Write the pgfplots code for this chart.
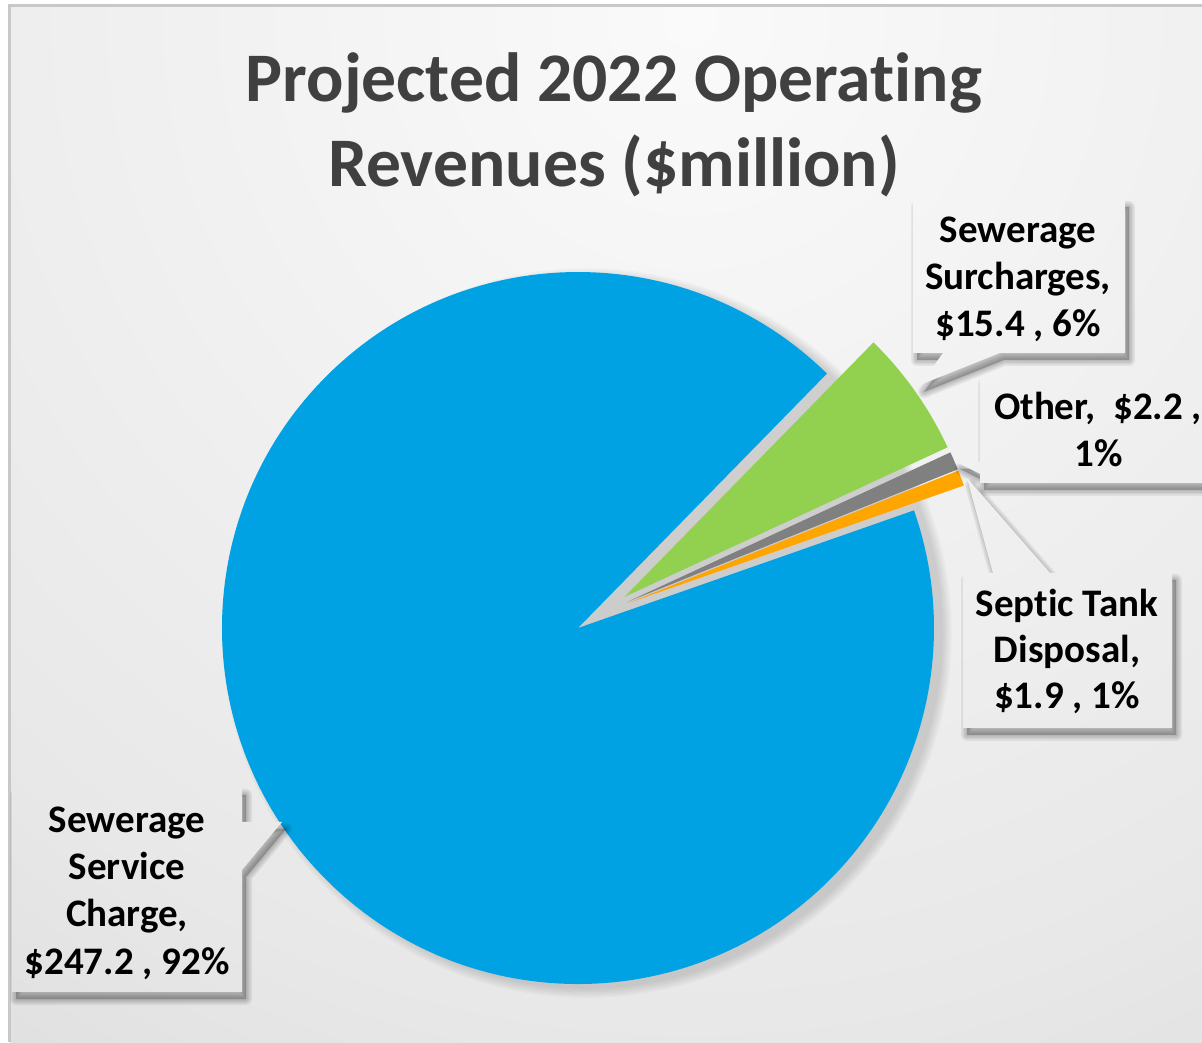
\documentclass[border=0pt]{standalone}
\usepackage{fontspec}
\setmainfont{Carlito}[Ligatures={NoCommon,NoContextual}, RawFeature={-liga;-dlig;-clig}]
\usepackage{pgfplots}
\pgfplotsset{compat=1.18}
\usepackage{pgfplotstable}

\definecolor{pieblue}{HTML}{00A2E3}
\definecolor{piegreen}{HTML}{92D050}
\definecolor{piegray}{HTML}{808080}
\definecolor{pieorange}{HTML}{FFA500}
\definecolor{titlegray}{HTML}{404040}
\definecolor{framegray}{HTML}{C8C8C8}
\definecolor{bgA}{HTML}{FAFAFA}
\definecolor{bgB}{HTML}{E8E8E8}
\definecolor{bgC}{HTML}{D3D3D3}
\definecolor{bgD}{HTML}{C4C4C4}

\pgfdeclareradialshading{bgshade}{\pgfpoint{0bp}{0bp}}{color(0bp)=(bgA); color(20bp)=(bgB); color(33bp)=(bgC); color(43bp)=(bgD); color(50bp)=(bgD)}

\newcommand\bgfill{\shade[shading=bgshade] (690,20) circle[radius=625pt];}
\newcommand\callout[1]{%
  \foreach \k in {1,...,4}{%
    \path[fill=black, draw=black, fill opacity=0.06, draw opacity=0.06,
          line width=\k*1.5pt, line join=round, shift={(4,7)}] #1;}
  \begin{scope}\clip #1; \bgfill\end{scope}}
\newcommand\lbl[3]{\node[anchor=base, inner sep=0pt, font=\fontsize{19.5}{23.75}\selectfont\bfseries] at (#1,#2) {#3};}

\pgfplotstableread{
name value
SSC 247.2
SS 15.4
OT 2.2
ST 1.9
}\pietable

\begin{document}
\begin{tikzpicture}
\pgfplotstablegetelem{0}{value}\of\pietable \let\va\pgfplotsretval
\pgfplotstablegetelem{1}{value}\of\pietable \let\vb\pgfplotsretval
\pgfplotstablegetelem{2}{value}\of\pietable \let\vc\pgfplotsretval
\pgfplotstablegetelem{3}{value}\of\pietable \let\vd\pgfplotsretval
\pgfmathsetmacro\tot{\va+\vb+\vc+\vd}
\pgfmathsetmacro\aA{19.3}
\pgfmathsetmacro\aB{\aA-360*(\va/\tot)}
\pgfmathsetmacro\aC{\aB-360*(\vb/\tot)}
\pgfmathsetmacro\aD{\aC-360*(\vc/\tot)}
\pgfmathsetmacro\aE{\aD-360*(\vd/\tot)}

% background (pixel coordinates, y down)
\begin{scope}[x=0.5pt,y=-0.5pt,yshift=521pt]
  \fill[white] (0,0) rectangle (1202,1042);
  \begin{scope}\clip (10,6) rectangle (1202,1042); \bgfill\end{scope}
  \draw[framegray, line width=1.2pt] (9.5,1042) -- (9.5,5.5) -- (1202,5.5);
  % pie shadow
  \foreach \k in {1,...,6}{\fill[black, opacity=0.025] (587,633) circle[radius={(354+1.8*\k)*0.5pt}];}
\end{scope}

\begin{axis}[at={(0,0)}, anchor=south west, scale only axis,
  width=601pt, height=521pt, xmin=0, xmax=1202, ymin=0, ymax=1042,
  y dir=reverse, hide axis, clip=false]
  \addplot[draw=none] coordinates {(0,0)};
  \fill[pieblue, shift={({(\aA+\aB)/2}:14pt)}] (axis cs:601.6,613) -- ++(\aB:178pt) arc[start angle=\aB, end angle=\aA, radius=178pt] -- cycle;
  \fill[piegreen, shift={({(\aB+\aC)/2}:14pt)}] (axis cs:601.6,613) -- ++(\aC:178pt) arc[start angle=\aC, end angle=\aB, radius=178pt] -- cycle;
  \fill[piegray, shift={({(\aC+\aD)/2}:14pt)}] (axis cs:601.6,613) -- ++(\aD:178pt) arc[start angle=\aD, end angle=\aC, radius=178pt] -- cycle;
  \fill[pieorange, shift={({(\aD+\aE)/2}:14pt)}] (axis cs:601.6,613) -- ++(\aE:178pt) arc[start angle=\aE, end angle=\aD, radius=178pt] -- cycle;
\end{axis}

\begin{scope}[x=0.5pt,y=-0.5pt,yshift=521pt]
  \node[anchor=base, inner sep=0pt, text=titlegray, font=\fontsize{34.8}{42.5}\selectfont\bfseries] at (614,102) {Projected 2022 Operating};
  \node[anchor=base, inner sep=0pt, text=titlegray, font=\fontsize{34.8}{42.5}\selectfont\bfseries] at (614,187) {Revenues (\$million)};

  \callout{(913,200) -- (1125,200) -- (1125,353) -- (1000,353) -- (920,385) -- (943,353) -- (913,353) -- cycle}
  \callout{(980,377) -- (1230,377) -- (1230,483) -- (980,483) -- (980,474) -- (956,462) -- (980,462) -- cycle}
  \callout{(963,573) -- (993,573) -- (967,478) -- (1050,573) -- (1172,573) -- (1172,728) -- (963,728) -- cycle}
  \callout{(12,788) -- (242,788) -- (242,822) -- (282,822) -- (242,870) -- (242,992) -- (12,992) -- cycle}

  \lbl{1018}{243}{Sewerage}
  \lbl{1018}{290}{Surcharges,}
  \lbl{1018}{337}{\$15.4 , 6\%}
  \lbl{1098}{420}{Other,\ \ \$2.2 ,}
  \lbl{1099}{467}{1\%}
  \lbl{1067}{617}{Septic Tank}
  \lbl{1067}{663}{Disposal,}
  \lbl{1067}{709}{\$1.9 , 1\%}
  \lbl{127}{833}{Sewerage}
  \lbl{127}{880}{Service}
  \lbl{127}{927}{Charge,}
  \lbl{127}{974}{\$247.2 , 92\%}
\end{scope}
\pgfresetboundingbox
\path[use as bounding box] (0,0) rectangle (601pt,521pt);
\end{tikzpicture}
\end{document}
